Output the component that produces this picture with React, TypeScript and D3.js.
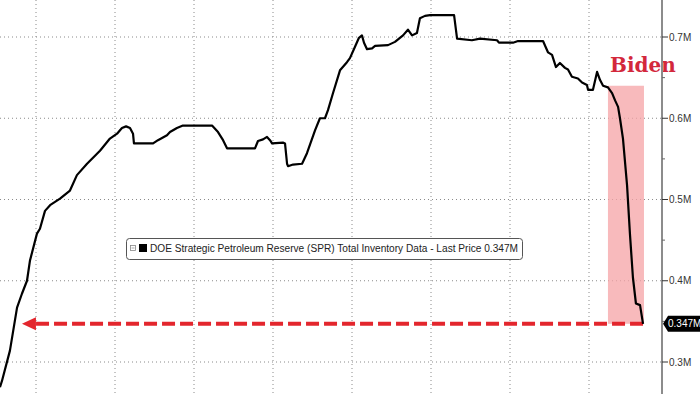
import { useMemo } from "react";
import * as d3 from "d3";

// SPR inventory, millions of barrels / 1000
const years = [
  1982.72, 1982.85, 1983.35, 1983.8, 1984.11, 1984.43, 1984.62, 1985.06, 1985.25, 1985.57,
  1985.89, 1986.52, 1987.15, 1987.59, 1988.23, 1989.05, 1989.68, 1990.13, 1990.44, 1990.7,
  1990.95, 1991.14, 1991.2, 1992.41, 1992.72, 1993.29, 1993.48, 1993.92, 1994.3, 1996.14,
  1996.52, 1996.84, 1997.09, 1998.86, 1999.05, 1999.37, 1999.62, 1999.81, 1999.94, 2000.63,
  2000.76, 2000.89, 2000.95, 2001.27, 2001.84, 2002.15, 2002.66, 2002.97, 2003.29, 2003.48,
  2003.8, 2004.24, 2004.68, 2004.87, 2005.19, 2005.44, 2005.63, 2005.76, 2005.95, 2006.27,
  2006.46, 2007.28, 2007.72, 2008.23, 2008.54, 2008.8, 2009.11, 2009.3, 2009.62, 2009.94,
  2011.46, 2011.65, 2012.59, 2013.1, 2014.18, 2014.3, 2015.19, 2015.51, 2017.09, 2017.41,
  2017.66, 2017.91, 2018.16, 2018.48, 2018.67, 2018.92, 2019.3, 2019.56, 2019.87, 2019.94,
  2020.25, 2020.51, 2020.7, 2020.89, 2021.2, 2021.46, 2021.65, 2021.84, 2021.96, 2022.15,
  2022.41, 2022.59, 2022.78, 2022.97, 2023.23, 2023.42,
];
const inventory = [
  0.269, 0.277, 0.314, 0.367, 0.384, 0.4, 0.425, 0.458, 0.464, 0.486,
  0.493, 0.501, 0.511, 0.53, 0.544, 0.56, 0.575, 0.581, 0.588, 0.59,
  0.588, 0.581, 0.569, 0.569, 0.573, 0.579, 0.583, 0.588, 0.591, 0.591,
  0.583, 0.573, 0.563, 0.563, 0.572, 0.574, 0.577, 0.573, 0.569, 0.57,
  0.569, 0.544, 0.541, 0.543, 0.544, 0.557, 0.585, 0.6, 0.6, 0.61,
  0.631, 0.659, 0.669, 0.674, 0.688, 0.699, 0.702, 0.693, 0.685, 0.686,
  0.689, 0.69, 0.694, 0.702, 0.709, 0.702, 0.705, 0.723, 0.726, 0.727,
  0.727, 0.698, 0.696, 0.698, 0.696, 0.693, 0.693, 0.695, 0.695, 0.681,
  0.678, 0.663, 0.668, 0.662, 0.66, 0.651, 0.649, 0.644, 0.641, 0.635,
  0.635, 0.657, 0.647, 0.64, 0.638, 0.631, 0.622, 0.614, 0.6, 0.575,
  0.517, 0.458, 0.404, 0.372, 0.37, 0.347,
];
const gridYears = [1985, 1990, 1995, 2000, 2005, 2010, 2015, 2020];
const majorTicks = [0.3, 0.4, 0.5, 0.6, 0.7];
const minorTicks = [0.35, 0.45, 0.55, 0.65];
const lastPrice = 0.347;
const bidenSpan = [2021.2, 2023.48];
const bidenTop = 0.64;
const arrowStart = 1984.11;
const legendText =
  "DOE Strategic Petroleum Reserve (SPR) Total Inventory Data - Last Price 0.347M";

const W = 700;
const H = 394;
const axisX = 662;
const RED = "#e3262d";

export default function App() {
  const x = useMemo(() => d3.scaleLinear().domain([1985, 2020]).range([36, 589]), []);
  const y = useMemo(() => d3.scaleLinear().domain([0.3, 0.7]).range([362, 37]), []);
  const pts = years.map((yr, i) => [yr, inventory[i]] as [number, number]);
  const line = d3
    .line<[number, number]>()
    .x((d) => x(d[0]))
    .y((d) => y(d[1]));

  const endX = x(years[years.length - 1]);
  const yLast = y(lastPrice);
  const tipX = x(arrowStart);
  const font = "'Liberation Sans', Arial, sans-serif";

  return (
    <svg
      width={W}
      height={H}
      style={{ position: "absolute", left: 0, top: 0, background: "#fff" }}
    >
      {/* grid */}
      {gridYears.map((g) => (
        <line
          key={g}
          x1={x(g)}
          x2={x(g)}
          y1={0}
          y2={H}
          stroke="#8a8a8a"
          strokeWidth={1}
          strokeDasharray="1,3"
        />
      ))}
      {majorTicks.map((t) => (
        <line
          key={t}
          x1={0}
          x2={axisX}
          y1={y(t)}
          y2={y(t)}
          stroke="#8a8a8a"
          strokeWidth={1}
          strokeDasharray="1,3"
        />
      ))}

      {/* Biden shading */}
      <rect
        x={x(bidenSpan[0])}
        y={y(bidenTop)}
        width={x(bidenSpan[1]) - x(bidenSpan[0])}
        height={y(lastPrice) - y(bidenTop)}
        fill="#f5a3a6"
        opacity={0.75}
      />
      <text
        x={610}
        y={72}
        fontFamily="'DejaVu Serif', serif"
        fontWeight="bold"
        fontSize={20}
        fill="#d3283c"
      >
        Biden
      </text>

      {/* dashed arrow */}
      <line
        x1={endX}
        x2={tipX + 13}
        y1={yLast}
        y2={yLast}
        stroke={RED}
        strokeWidth={4}
        strokeDasharray="13,5"
      />
      <polygon
        points={`${tipX},${yLast} ${tipX + 14},${yLast - 6.5} ${tipX + 14},${yLast + 6.5}`}
        fill={RED}
      />

      {/* series */}
      <path d={line(pts) ?? ""} fill="none" stroke="#000" strokeWidth={2.2} strokeLinejoin="round" />

      {/* legend */}
      <rect x={126.5} y={238.5} width={396} height={21} rx={3} fill="#fff" stroke="#555" />
      <rect x={130.5} y={245.5} width={5} height={5} fill="#fff" stroke="#888" strokeWidth={0.8} />
      <line x1={131.5} x2={134.5} y1={248} y2={248} stroke="#888" strokeWidth={0.7} />
      <rect x={139} y={244} width={8} height={8} fill="#000" />
      <text
        x={150}
        y={252}
        fontFamily={font}
        fontSize={10}
        fill="#222"
        textLength={368}
        lengthAdjust="spacingAndGlyphs"
      >
        {legendText}
      </text>

      {/* right axis */}
      <line x1={axisX} x2={axisX} y1={0} y2={H} stroke="#8c8c8c" strokeWidth={2} />
      {minorTicks.map((t) => (
        <line key={t} x1={axisX} x2={axisX + 3} y1={y(t)} y2={y(t)} stroke="#666" strokeWidth={1} />
      ))}
      {majorTicks.map((t) => (
        <g key={t}>
          <line x1={axisX} x2={axisX + 6} y1={y(t)} y2={y(t)} stroke="#333" strokeWidth={1} />
          <text x={669} y={y(t) + 3.5} fontFamily={font} fontSize={10} fill="#333">
            {`${t.toFixed(1)}M`}
          </text>
        </g>
      ))}

      {/* last price tag */}
      <path
        d={`M${axisX + 1},${yLast} L${axisX + 6},${yLast - 8} H${W} V${yLast + 8} H${axisX + 6} Z`}
        fill="#000"
      />
      <text x={668} y={yLast + 3.5} fontFamily={font} fontSize={10} fill="#fff">
        {`${lastPrice.toFixed(3)}M`}
      </text>
    </svg>
  );
}
